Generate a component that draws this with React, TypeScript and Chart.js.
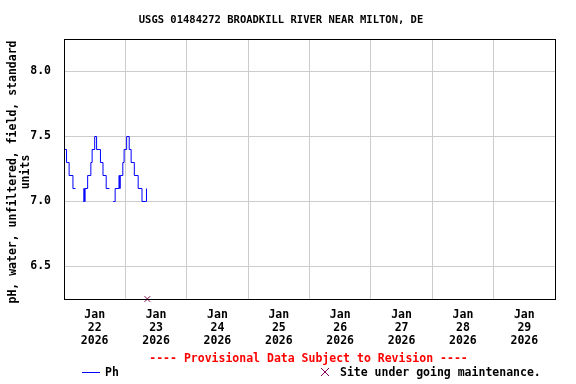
import React, { useEffect, useRef } from "react";
import { Chart, registerables } from "chart.js";

Chart.register(...registerables);

// Hours since Jan 22 2026 00:00 (local) at which the reading level changes
const phHours: number[] = [0, 1, 2, 3.5, 4.5, 5.5, 7.5, 7.75, 8, 8.25, 9.25, 10.5, 11, 12, 12.75, 14.25, 15.25, 16.5, 17.75, 18.5, 19.25, 20, 21.5, 21.75, 22, 23, 23.5, 24.5, 25.5, 26.25, 27.5, 29, 30.5, 32, 32.25];
const phValues: (number | null)[] = [7.4, 7.3, 7.2, 7.1, 7.1, null, 7.0, 7.1, 7.0, 7.1, 7.2, 7.3, 7.4, 7.5, 7.4, 7.3, 7.2, 7.1, 7.1, null, 7.0, 7.1, 7.2, 7.1, 7.2, 7.3, 7.4, 7.5, 7.4, 7.3, 7.2, 7.1, 7.0, 7.0, 7.1];

const maintenanceHours: number[] = [32.6];

const dayLabels: string[] = ["22", "23", "24", "25", "26", "27", "28", "29"];
const yTickValues: number[] = [6.5, 7.0, 7.5, 8.0];

const TITLE = "USGS 01484272 BROADKILL RIVER NEAR MILTON, DE";
const Y_TITLE = ["pH, water, unfiltered, field, standard", "units"];
const PROVISIONAL = "---- Provisional Data Subject to Revision ----";
const LEGEND_PH = "Ph";
const LEGEND_MAINT = "Site under going maintenance.";

const Y_MIN = 6.25;
const Y_MAX = 8.25;
const X_MIN = 0;
const X_MAX = 192;

const FONT = "'DejaVu Sans Mono', monospace";
const MAINT_COLOR = "#800050";

const extrasPlugin = {
  id: "usgsExtras",
  afterDraw(chart: any) {
    const ctx = chart.ctx as CanvasRenderingContext2D;
    const a = chart.chartArea;
    ctx.save();
    // frame
    ctx.strokeStyle = "#000";
    ctx.lineWidth = 1;
    ctx.strokeRect(Math.round(a.left) + 0.5, Math.round(a.top) + 0.5, Math.round(a.right - a.left), Math.round(a.bottom - a.top));
    // title
    ctx.fillStyle = "#000";
    ctx.font = `bold 10.5px ${FONT}`;
    ctx.textAlign = "center";
    ctx.textBaseline = "middle";
    ctx.fillText(TITLE, 281, 20);
    // y-axis title
    ctx.save();
    ctx.translate(13, (a.top + a.bottom) / 2 + 3);
    ctx.rotate(-Math.PI / 2);
    ctx.font = `bold 11.5px ${FONT}`;
    ctx.fillText(Y_TITLE[0], 0, 0);
    ctx.fillText(Y_TITLE[1], 0, 13);
    ctx.restore();
    // provisional
    ctx.fillStyle = "#ff0000";
    ctx.font = `bold 11.5px ${FONT}`;
    ctx.fillText(PROVISIONAL, 308.5, 359);
    // legend
    ctx.strokeStyle = "#0000ff";
    ctx.beginPath();
    ctx.moveTo(82, 372.5);
    ctx.lineTo(100, 372.5);
    ctx.stroke();
    ctx.fillStyle = "#000";
    ctx.textAlign = "left";
    ctx.fillText(LEGEND_PH, 105, 373);
    ctx.strokeStyle = MAINT_COLOR;
    ctx.beginPath();
    ctx.moveTo(321, 368);
    ctx.lineTo(329, 376);
    ctx.moveTo(329, 368);
    ctx.lineTo(321, 376);
    ctx.stroke();
    ctx.fillText(LEGEND_MAINT, 340, 373);
    ctx.restore();
  },
};

export default function App() {
  const ref = useRef<HTMLCanvasElement | null>(null);
  useEffect(() => {
    if (!ref.current) return;
    const phData = phHours.map((h, i) => ({ x: h, y: phValues[i] }));
    const maintData = maintenanceHours.map((h) => ({ x: h, y: Y_MIN }));
    const chart = new Chart(ref.current, {
      type: "line",
      data: {
        datasets: [
          {
            label: LEGEND_PH,
            data: phData as any,
            borderColor: "#0000ff",
            borderWidth: 1,
            pointRadius: 0,
            stepped: true,
            spanGaps: false,
            fill: false,
          },
          {
            label: "maintenance",
            data: maintData as any,
            type: "scatter" as any,
            showLine: false,
            pointStyle: "crossRot",
            pointRadius: 4,
            borderColor: MAINT_COLOR,
            borderWidth: 1,
            clip: false as any,
          } as any,
        ],
      },
      options: {
        animation: false,
        responsive: false,
        maintainAspectRatio: false,
        layout: { padding: { top: 39, right: 21, bottom: 0, left: 0 } },
        plugins: {
          legend: { display: false },
          title: { display: false },
          tooltip: { enabled: false },
        },
        scales: {
          x: {
            type: "linear",
            min: X_MIN,
            max: X_MAX,
            afterFit: (s: any) => {
              s.height = 85;
            },
            afterBuildTicks: (s: any) => {
              const t: any[] = [];
              for (let h = X_MIN; h <= X_MAX; h += 12) t.push({ value: h });
              s.ticks = t;
            },
            grid: {
              drawTicks: false,
              color: (c: any) => (c.tick && c.tick.value % 24 === 0 ? "#cccccc" : "rgba(0,0,0,0)"),
            },
            border: { display: false },
            ticks: {
              autoSkip: false,
              maxRotation: 0,
              padding: 10,
              color: "#000",
              font: { family: FONT, size: 11.5, weight: "bold", lineHeight: "13px" } as any,
              callback: (v: any) => {
                const n = Number(v);
                if (n % 24 !== 12) return "";
                const d = dayLabels[Math.floor(n / 24)];
                return d ? ["Jan", d, "2026"] : "";
              },
            },
          },
          y: {
            type: "linear",
            min: Y_MIN,
            max: Y_MAX,
            afterFit: (s: any) => {
              s.width = 64;
            },
            afterBuildTicks: (s: any) => {
              s.ticks = yTickValues.map((v) => ({ value: v }));
            },
            grid: { drawTicks: false, color: "#cccccc" },
            border: { display: false },
            ticks: {
              padding: 13,
              color: "#000",
              font: { family: FONT, size: 11.5, weight: "bold" } as any,
              callback: (v: any) => Number(v).toFixed(1),
            },
          },
        },
      },
      plugins: [extrasPlugin],
    });
    return () => chart.destroy();
  }, []);
  return (
    <div style={{ position: "fixed", left: 0, top: 0, width: 576, height: 384, background: "#fff" }}>
      <canvas ref={ref} width={576} height={384} style={{ width: 576, height: 384 }} />
    </div>
  );
}
